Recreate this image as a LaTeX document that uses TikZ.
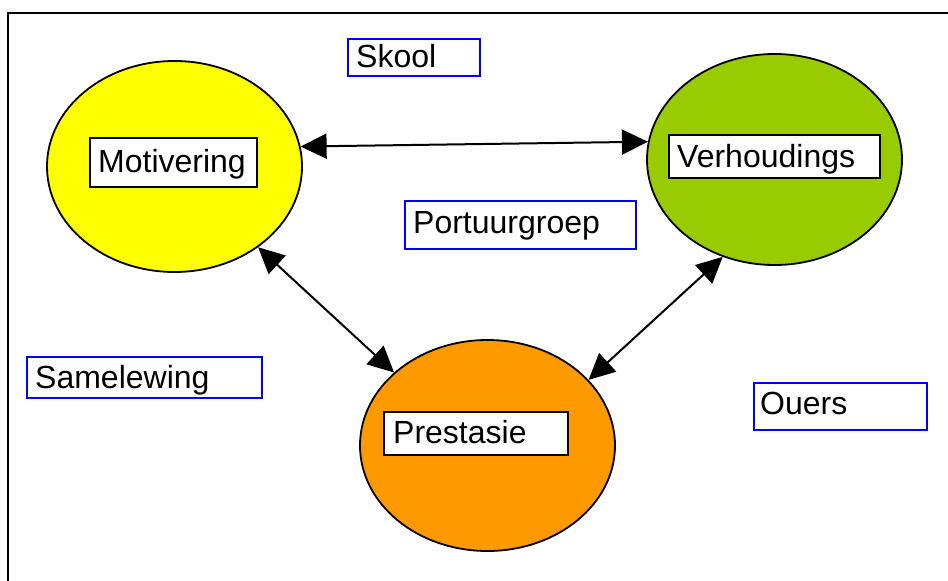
\documentclass[tikz,border=0pt]{standalone}
\usepackage{fontspec}
\setmainfont{Liberation Sans}
\usetikzlibrary{shapes.geometric,arrows.meta,fit}
\definecolor{cyellow}{HTML}{FFFF00}
\definecolor{cgreen}{HTML}{99CC00}
\definecolor{corange}{HTML}{FF9900}
\definecolor{cblue}{HTML}{0000FF}
\tikzset{
  oval/.style={ellipse, draw=black, line width=1.8pt, minimum width=255pt, minimum height=211pt, inner sep=0pt},
  whitebox/.style={draw=black, fill=white, line width=1.8pt, inner sep=0pt},
  bluebox/.style={draw=cblue, fill=white, line width=1.8pt, inner sep=0pt},
  lbl/.style={font=\fontsize{32}{38}\selectfont, inner sep=0pt, anchor=base west},
  link/.style={line width=2pt, {Triangle[length=26pt,width=25pt]}-{Triangle[length=26pt,width=25pt]}}
}
\begin{document}
\begin{tikzpicture}[x=1pt,y=-1pt]
\useasboundingbox (0,0) rectangle (948,581);
\clip (0,0) rectangle (948,581);
\fill[white] (0,0) rectangle (948,581);
\draw[line width=2.5pt] (8,13) rectangle (980,620);
% ellipses
\node[oval, fill=cyellow] (mot) at (174.5,166.5) {};
\node[oval, fill=cgreen] (ver) at (774.5,159.5) {};
\node[oval, fill=corange] (pre) at (487.5,445.5) {};
% arrows
\draw[link] (mot.9) -- (ver.172.6);
\draw[link] (mot.-44.3) -- (pre.142);
\draw[link] (ver.242.8) -- (pre.33.5);
% white boxes
\node[whitebox, fit={(90,138) (257,187)}] (motbox) {};
\node[lbl] (mottxt) at (98,172) {Motivering};
\node[whitebox, fit={(669,135) (880,178)}] (verbox) {};
\node[lbl] (vertxt) at (677,167) {Verhoudings};
\node[whitebox, fit={(384,412) (568,455)}] (prebox) {};
\node[lbl] (pretxt) at (393,443) {Prestasie};
% blue boxes
\node[bluebox, fit={(348,39) (480,76)}] (skoolbox) {};
\node[lbl] (skool) at (356,67) {Skool};
\node[bluebox, fit={(405,201) (636,249)}] (portbox) {};
\node[lbl] (port) at (413,233) {Portuurgroep};
\node[bluebox, fit={(27,357) (262,398)}] (samebox) {};
\node[lbl] (same) at (35,388) {Samelewing};
\node[bluebox, fit={(754,383) (927,430)}] (ouersbox) {};
\node[lbl] (ouers) at (760,414) {Ouers};
\end{tikzpicture}
\end{document}
